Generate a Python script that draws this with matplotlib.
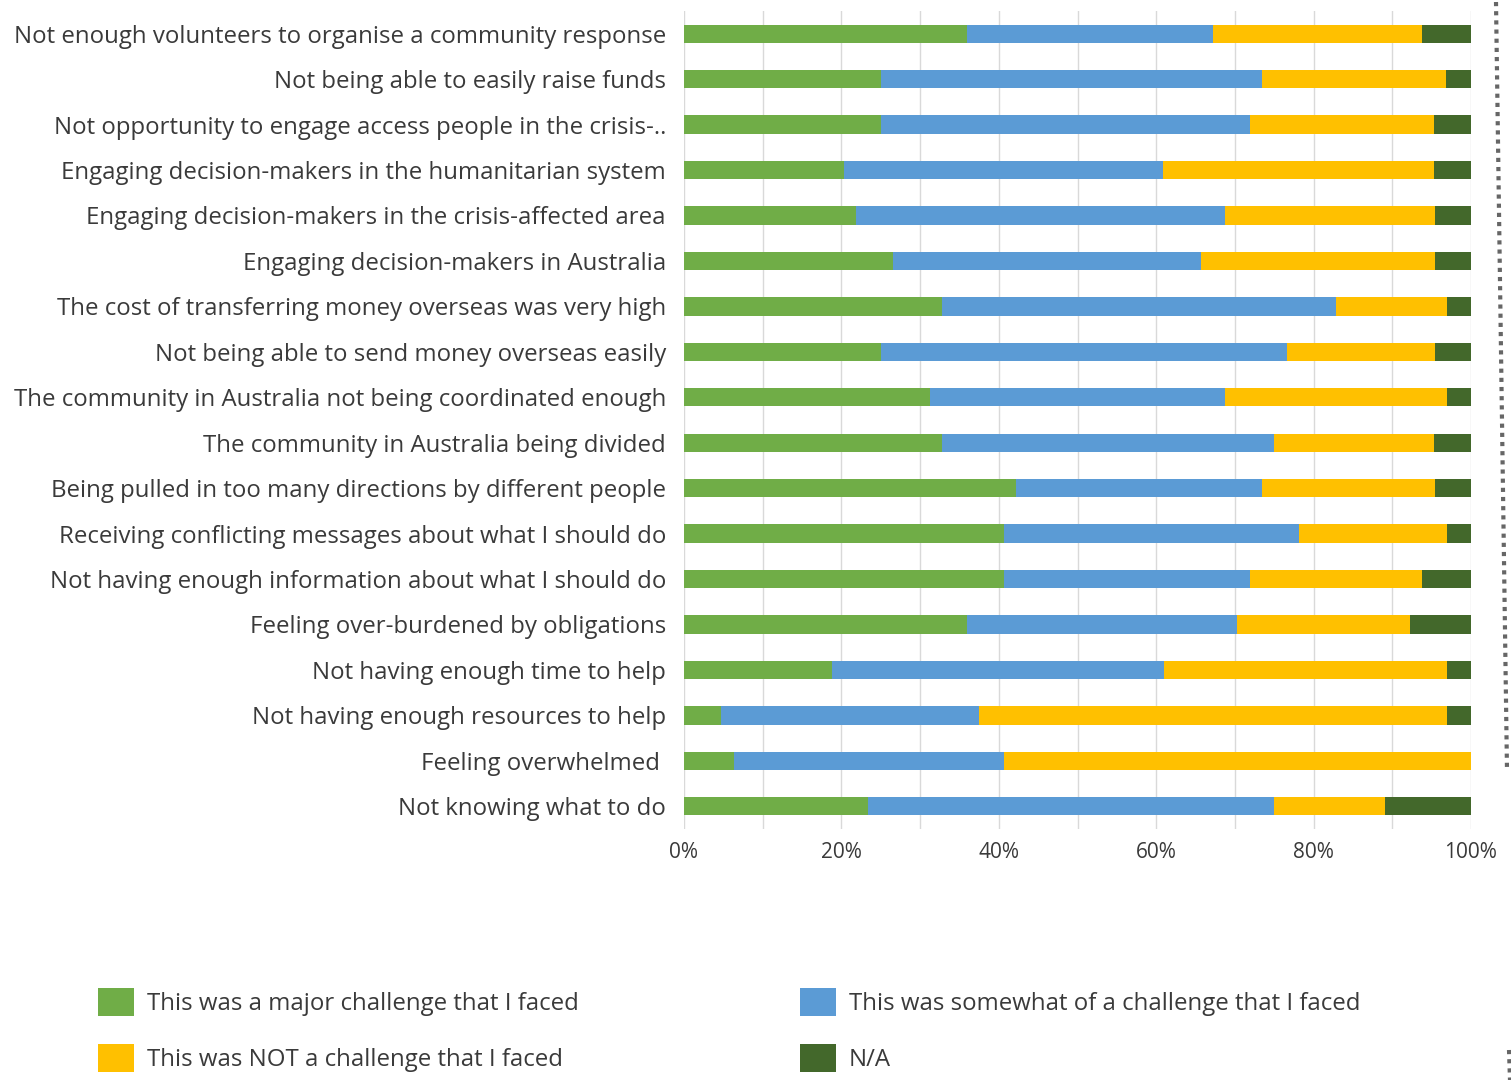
import matplotlib.pyplot as plt
import matplotlib.lines as mlines
import numpy as np

plt.rcParams['font.family'] = ['Open Sans', 'DejaVu Sans']

categories = [
    'Not enough volunteers to organise a community response',
    'Not being able to easily raise funds',
    'Not opportunity to engage access people in the crisis-..',
    'Engaging decision-makers in the humanitarian system',
    'Engaging decision-makers in the crisis-affected area',
    'Engaging decision-makers in Australia',
    'The cost of transferring money overseas was very high',
    'Not being able to send money overseas easily',
    'The community in Australia not being coordinated enough',
    'The community in Australia being divided',
    'Being pulled in too many directions by different people',
    'Receiving conflicting messages about what I should do',
    'Not having enough information about what I should do',
    'Feeling over-burdened by obligations',
    'Not having enough time to help',
    'Not having enough resources to help',
    'Feeling overwhelmed ',
    'Not knowing what to do',
]

# percentages
major = [35.9, 25.0, 25.0, 20.3, 21.9, 26.6, 32.8, 25.0, 31.3, 32.8,
         42.2, 40.6, 40.6, 35.9, 18.8, 4.7, 6.3, 23.4]
somewhat = [31.3, 48.4, 46.9, 40.6, 46.9, 39.1, 50.0, 51.6, 37.5, 42.2,
            31.3, 37.5, 31.3, 34.4, 42.2, 32.8, 34.4, 51.6]
not_challenge = [26.6, 23.4, 23.4, 34.4, 26.6, 29.7, 14.1, 18.8, 28.1, 20.3,
                 21.9, 18.8, 21.9, 21.9, 35.9, 59.4, 59.3, 14.1]
na = [6.2, 3.2, 4.7, 4.7, 4.6, 4.6, 3.1, 4.6, 3.1, 4.7,
      4.6, 3.1, 6.2, 7.8, 3.1, 3.1, 0.0, 10.9]

series = [
    ('This was a major challenge that I faced', major, '#70AD47'),
    ('This was somewhat of a challenge that I faced', somewhat, '#5B9BD5'),
    ('This was NOT a challenge that I faced', not_challenge, '#FFC000'),
    ('N/A', na, '#43682B'),
]

W, H = 1511, 1080
fig = plt.figure(figsize=(W / 100, H / 100), dpi=100)
ax = fig.add_axes([684 / W, 1 - 829 / H, (1471 - 684) / W, (829 - 11) / H])

y = np.arange(len(categories))
left = np.zeros(len(categories))
bars = []
for label, vals, col in series:
    vals = np.array(vals) / 100.0
    b = ax.barh(y, vals, left=left, height=0.405, color=col, label=label, zorder=3)
    bars.append(b)
    left = left + vals

ax.set_ylim(len(categories) - 0.5, -0.5)
ax.set_xlim(0, 1)
ax.set_yticks(y)
ax.set_yticklabels(categories, fontsize=17.3, color='#3a3a3a')
ax.set_xticks(np.arange(0, 1.01, 0.2))
ax.set_xticklabels(['%d%%' % v for v in range(0, 101, 20)], fontsize=15, color='#3a3a3a')
ax.set_xticks(np.arange(0.1, 1.0, 0.2), minor=True)
ax.tick_params(axis='y', length=0, pad=13)
ax.tick_params(axis='x', which='both', length=0, pad=9)
ax.grid(axis='x', which='both', color='#d9d9d9', linewidth=1, zorder=0)
for s in ax.spines.values():
    s.set_visible(False)

# legend, two columns
handles = [bars[0], bars[2], bars[1], bars[3]]
labels = [series[0][0], series[2][0], series[1][0], series[3][0]]
leg = fig.legend(handles, labels, ncol=2, loc='upper left',
                 bbox_to_anchor=(76 / W, 1 - 966 / H), frameon=False,
                 fontsize=17.3, handlelength=1.5, handleheight=1.45,
                 handletextpad=0.55, columnspacing=9.2, labelspacing=1.15)
for t in leg.get_texts():
    t.set_color('#3a3a3a')

# dotted page edge on the right
fig.add_artist(mlines.Line2D([1496 / W, 1507 / W], [1 - 2 / H, 1 - 770 / H],
                             transform=fig.transFigure, color='#666666',
                             linestyle=(0, (1, 1.2)), linewidth=3))
fig.add_artist(mlines.Line2D([1509 / W, 1510 / W], [1 - 1050 / H, 1 - 1080 / H],
                             transform=fig.transFigure, color='#666666',
                             linestyle=(0, (1, 1.2)), linewidth=3))

plt.savefig('out.png', dpi=100)
